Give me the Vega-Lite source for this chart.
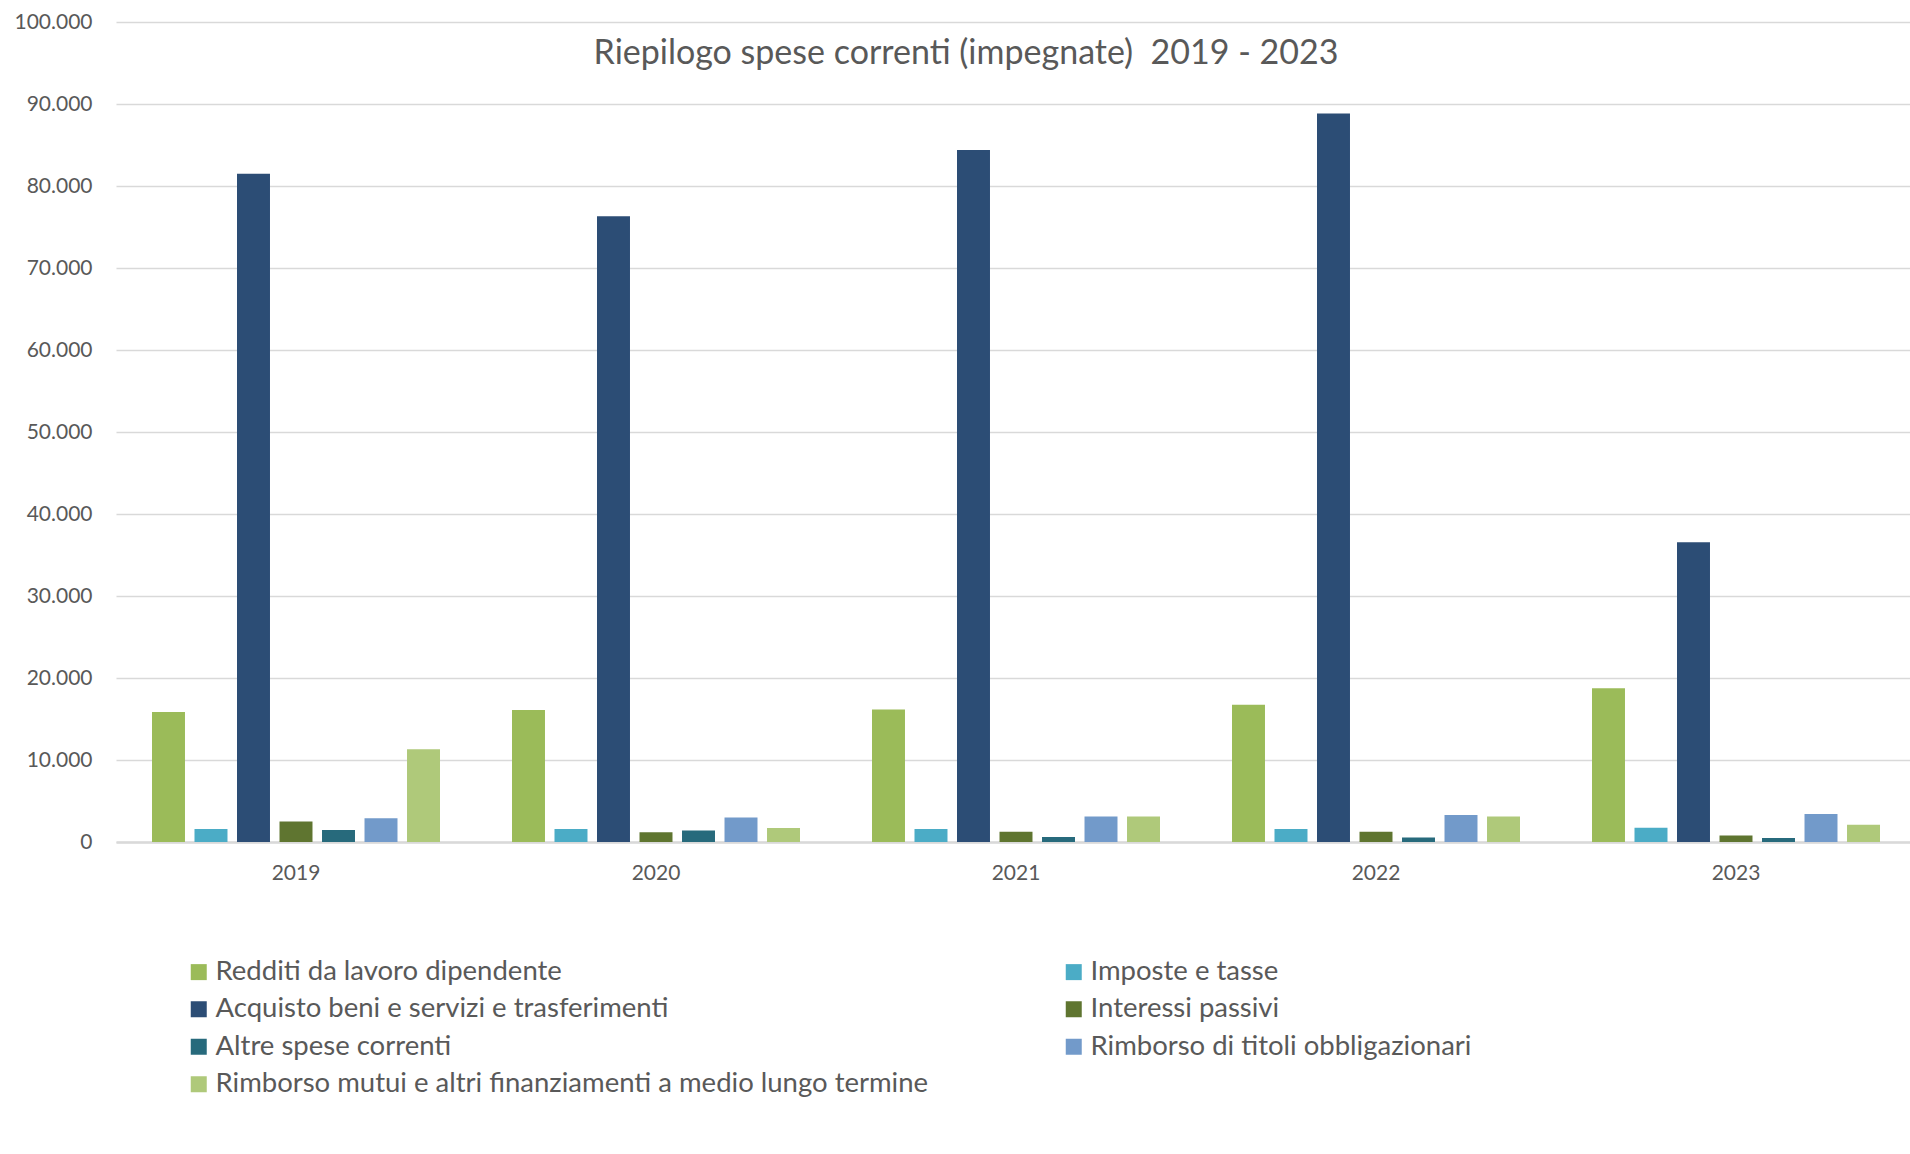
{
  "$schema": "https://vega.github.io/schema/vega-lite/v6.json",
  "autosize": "none",
  "padding": {"left": 116, "top": 22, "right": 0, "bottom": 312},
  "width": 1800,
  "height": 820,
  "background": "white",
  "title": {
    "text": "Riepilogo spese correnti (impegnate) \u00a02019 - 2023",
    "font": "Lato",
    "fontSize": 34,
    "fontWeight": "normal",
    "color": "#595959",
    "anchor": "middle",
    "baseline": "alphabetic",
    "offset": -40,
    "dy": 47,
    "dx": -50
  },
  "data": {
    "values": [
      {"anno": "2019", "voce": "Redditi da lavoro dipendente", "valore": 15850},
      {"anno": "2019", "voce": "Imposte e tasse", "valore": 1600},
      {"anno": "2019", "voce": "Acquisto beni e servizi e trasferimenti", "valore": 81500},
      {"anno": "2019", "voce": "Interessi passivi", "valore": 2500},
      {"anno": "2019", "voce": "Altre spese correnti", "valore": 1450},
      {"anno": "2019", "voce": "Rimborso di titoli obbligazionari", "valore": 2900},
      {"anno": "2019", "voce": "Rimborso mutui e altri finanziamenti a medio lungo termine", "valore": 11300},
      {"anno": "2020", "voce": "Redditi da lavoro dipendente", "valore": 16100},
      {"anno": "2020", "voce": "Imposte e tasse", "valore": 1600},
      {"anno": "2020", "voce": "Acquisto beni e servizi e trasferimenti", "valore": 76300},
      {"anno": "2020", "voce": "Interessi passivi", "valore": 1200},
      {"anno": "2020", "voce": "Altre spese correnti", "valore": 1400},
      {"anno": "2020", "voce": "Rimborso di titoli obbligazionari", "valore": 3000},
      {"anno": "2020", "voce": "Rimborso mutui e altri finanziamenti a medio lungo termine", "valore": 1700},
      {"anno": "2021", "voce": "Redditi da lavoro dipendente", "valore": 16150},
      {"anno": "2021", "voce": "Imposte e tasse", "valore": 1600},
      {"anno": "2021", "voce": "Acquisto beni e servizi e trasferimenti", "valore": 84400},
      {"anno": "2021", "voce": "Interessi passivi", "valore": 1250},
      {"anno": "2021", "voce": "Altre spese correnti", "valore": 600},
      {"anno": "2021", "voce": "Rimborso di titoli obbligazionari", "valore": 3100},
      {"anno": "2021", "voce": "Rimborso mutui e altri finanziamenti a medio lungo termine", "valore": 3100},
      {"anno": "2022", "voce": "Redditi da lavoro dipendente", "valore": 16750},
      {"anno": "2022", "voce": "Imposte e tasse", "valore": 1600},
      {"anno": "2022", "voce": "Acquisto beni e servizi e trasferimenti", "valore": 88850},
      {"anno": "2022", "voce": "Interessi passivi", "valore": 1250},
      {"anno": "2022", "voce": "Altre spese correnti", "valore": 550},
      {"anno": "2022", "voce": "Rimborso di titoli obbligazionari", "valore": 3300},
      {"anno": "2022", "voce": "Rimborso mutui e altri finanziamenti a medio lungo termine", "valore": 3100},
      {"anno": "2023", "voce": "Redditi da lavoro dipendente", "valore": 18750},
      {"anno": "2023", "voce": "Imposte e tasse", "valore": 1750},
      {"anno": "2023", "voce": "Acquisto beni e servizi e trasferimenti", "valore": 36550},
      {"anno": "2023", "voce": "Interessi passivi", "valore": 800},
      {"anno": "2023", "voce": "Altre spese correnti", "valore": 500},
      {"anno": "2023", "voce": "Rimborso di titoli obbligazionari", "valore": 3400},
      {"anno": "2023", "voce": "Rimborso mutui e altri finanziamenti a medio lungo termine", "valore": 2100}
    ]
  },
  "mark": {"type": "bar"},
  "encoding": {
    "x": {
      "field": "anno",
      "type": "nominal",
      "title": null,
      "scale": {"paddingInner": 0.2, "paddingOuter": 0.1},
      "axis": {
        "labelAngle": 0,
        "ticks": false,
        "labelPadding": 20,
        "domainColor": "#D9D9D9",
        "domainWidth": 2.5
      }
    },
    "xOffset": {
      "field": "voce",
      "type": "nominal",
      "sort": [
        "Redditi da lavoro dipendente",
        "Imposte e tasse",
        "Acquisto beni e servizi e trasferimenti",
        "Interessi passivi",
        "Altre spese correnti",
        "Rimborso di titoli obbligazionari",
        "Rimborso mutui e altri finanziamenti a medio lungo termine"
      ],
      "scale": {"paddingInner": 0.224, "paddingOuter": 0}
    },
    "y": {
      "field": "valore",
      "type": "quantitative",
      "title": null,
      "scale": {"domain": [0, 100000], "nice": false},
      "axis": {
        "values": [0, 10000, 20000, 30000, 40000, 50000, 60000, 70000, 80000, 90000, 100000],
        "format": ",d",
        "ticks": false,
        "domain": false,
        "labelPadding": 24,
        "gridColor": "#D9D9D9",
        "gridWidth": 1.5
      }
    },
    "color": {
      "field": "voce",
      "type": "nominal",
      "scale": {
        "domain": [
          "Redditi da lavoro dipendente",
          "Acquisto beni e servizi e trasferimenti",
          "Altre spese correnti",
          "Rimborso mutui e altri finanziamenti a medio lungo termine",
          "Imposte e tasse",
          "Interessi passivi",
          "Rimborso di titoli obbligazionari"
        ],
        "range": ["#9BBB59", "#2C4D75", "#276A7C", "#AFC97A", "#4BACC6", "#5F7530", "#729ACA"]
      },
      "legend": {
        "title": null,
        "orient": "none",
        "legendX": 69,
        "legendY": 936,
        "columns": 2,
        "columnPadding": 131,
        "rowPadding": 8.5,
        "symbolType": "square",
        "symbolSize": 256,
        "symbolStrokeWidth": 0,
        "labelOffset": 3,
        "labelFontSize": 27.5,
        "labelLimit": 1000
      }
    }
  },
  "config": {
    "locale": {
      "number": {"decimal": ",", "thousands": ".", "grouping": [3], "currency": ["€", ""]}
    },
    "view": {"stroke": null},
    "font": "Lato",
    "axis": {
      "labelFont": "Lato",
      "labelFontSize": 21,
      "labelColor": "#595959"
    },
    "legend": {
      "labelFont": "Lato",
      "labelColor": "#595959"
    }
  }
}
